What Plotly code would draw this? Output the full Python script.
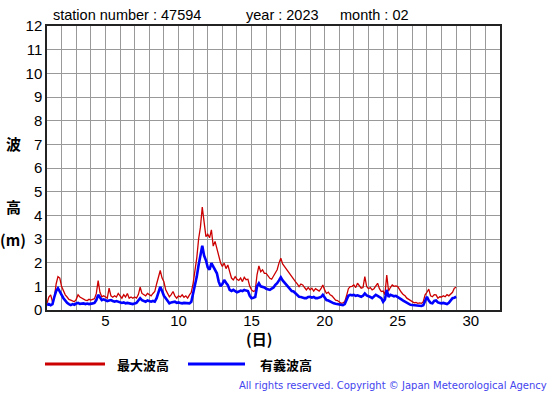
import plotly.graph_objects as go

# 3-hourly readings (00,03,06,09,12,15,18,21 h) for each day of Feb 2023, plus 1 Mar 00h
max_wave_by_day = [
    [0.28, 0.55, 0.64, 0.35, 0.50, 1.10, 1.41, 1.35],   # 1
    [0.99, 0.80, 0.64, 0.55, 0.45, 0.42, 0.38, 0.35],   # 2
    [0.45, 0.64, 0.55, 0.50, 0.45, 0.42, 0.40, 0.45],   # 3
    [0.42, 0.45, 0.48, 0.70, 1.24, 0.75, 0.56, 0.60],   # 4
    [0.55, 0.50, 0.92, 0.60, 0.54, 0.60, 0.55, 0.70],   # 5
    [0.60, 0.50, 0.65, 0.55, 0.70, 0.50, 0.55, 0.50],   # 6
    [0.55, 0.50, 0.65, 0.96, 0.70, 0.64, 0.60, 0.70],   # 7
    [0.64, 0.60, 0.70, 0.78, 1.10, 1.40, 1.67, 1.35],   # 8
    [1.20, 0.85, 0.70, 0.56, 0.65, 0.78, 0.60, 0.50],   # 9
    [0.60, 0.55, 0.64, 0.54, 0.60, 0.50, 0.64, 0.75],   # 10
    [1.13, 1.60, 2.20, 3.00, 3.50, 4.35, 3.70, 3.10],   # 11
    [3.20, 3.05, 3.39, 2.70, 2.90, 2.60, 2.30, 2.00],   # 12
    [1.84, 1.98, 1.75, 1.90, 1.62, 1.35, 1.27, 1.41],   # 13
    [1.30, 1.25, 1.35, 1.20, 1.38, 1.28, 1.30, 1.00],   # 14
    [0.85, 0.78, 0.82, 1.50, 1.86, 1.62, 1.70, 1.55],   # 15
    [1.55, 1.45, 1.34, 1.30, 1.45, 1.55, 1.70, 1.98],   # 16
    [2.19, 1.95, 1.84, 1.70, 1.60, 1.50, 1.40, 1.27],   # 17
    [1.20, 1.10, 0.99, 1.10, 1.06, 0.95, 0.85, 0.95],   # 18
    [0.85, 0.92, 0.80, 0.90, 0.85, 0.80, 0.90, 1.06],   # 19
    [0.85, 0.70, 0.75, 0.64, 0.60, 0.50, 0.42, 0.40],   # 20
    [0.35, 0.28, 0.30, 0.35, 0.60, 0.90, 0.99, 1.00],   # 21
    [1.06, 0.95, 1.13, 1.00, 0.92, 0.95, 1.41, 0.99],   # 22
    [0.90, 0.95, 0.85, 0.90, 1.00, 1.13, 0.90, 0.78],   # 23
    [0.80, 0.65, 1.48, 0.80, 0.95, 1.06, 1.00, 1.02],   # 24
    [0.99, 0.85, 0.75, 0.65, 0.60, 0.50, 0.45, 0.38],   # 25
    [0.35, 0.30, 0.32, 0.28, 0.30, 0.28, 0.35, 0.64],   # 26
    [0.75, 0.88, 0.60, 0.56, 0.65, 0.64, 0.50, 0.56],   # 27
    [0.55, 0.60, 0.56, 0.65, 0.60, 0.70, 0.75, 0.92],   # 28
]
max_wave_last = 0.96

sig_wave_by_day = [
    [0.21, 0.25, 0.20, 0.25, 0.55, 0.80, 0.92, 0.80],   # 1
    [0.64, 0.50, 0.38, 0.30, 0.25, 0.21, 0.25, 0.22],   # 2
    [0.28, 0.30, 0.26, 0.28, 0.28, 0.25, 0.27, 0.25],   # 3
    [0.25, 0.28, 0.30, 0.42, 0.64, 0.50, 0.42, 0.45],   # 4
    [0.42, 0.38, 0.40, 0.42, 0.38, 0.35, 0.38, 0.35],   # 5
    [0.35, 0.30, 0.32, 0.28, 0.30, 0.28, 0.27, 0.25],   # 6
    [0.28, 0.30, 0.40, 0.50, 0.42, 0.38, 0.35, 0.40],   # 7
    [0.38, 0.35, 0.38, 0.35, 0.50, 0.80, 0.98, 0.80],   # 8
    [0.60, 0.50, 0.40, 0.28, 0.32, 0.35, 0.35, 0.30],   # 9
    [0.32, 0.30, 0.28, 0.30, 0.30, 0.28, 0.28, 0.35],   # 10
    [0.70, 1.10, 1.41, 1.90, 2.26, 2.71, 2.30, 2.10],   # 11
    [1.80, 1.70, 1.98, 1.85, 1.70, 1.55, 1.20, 1.00],   # 12
    [1.10, 1.27, 1.15, 1.05, 0.85, 0.80, 0.85, 0.80],   # 13
    [0.75, 0.78, 0.82, 0.80, 0.85, 0.82, 0.80, 0.60],   # 14
    [0.50, 0.52, 0.55, 1.00, 1.13, 1.00, 0.99, 0.95],   # 15
    [0.90, 0.88, 0.85, 0.90, 0.95, 1.06, 1.13, 1.25],   # 16
    [1.38, 1.25, 1.15, 1.06, 0.95, 0.88, 0.80, 0.78],   # 17
    [0.70, 0.62, 0.56, 0.55, 0.52, 0.50, 0.50, 0.55],   # 18
    [0.56, 0.52, 0.55, 0.50, 0.50, 0.52, 0.55, 0.64],   # 19
    [0.50, 0.42, 0.40, 0.35, 0.30, 0.28, 0.26, 0.25],   # 20
    [0.22, 0.21, 0.21, 0.25, 0.40, 0.60, 0.64, 0.62],   # 21
    [0.64, 0.60, 0.62, 0.58, 0.56, 0.60, 0.70, 0.62],   # 22
    [0.60, 0.55, 0.50, 0.58, 0.64, 0.60, 0.55, 0.50],   # 23
    [0.35, 0.45, 0.85, 0.55, 0.64, 0.60, 0.58, 0.60],   # 24
    [0.56, 0.50, 0.45, 0.40, 0.35, 0.30, 0.25, 0.22],   # 25
    [0.21, 0.20, 0.18, 0.17, 0.18, 0.17, 0.20, 0.35],   # 26
    [0.56, 0.40, 0.30, 0.28, 0.38, 0.40, 0.32, 0.30],   # 27
    [0.28, 0.30, 0.26, 0.25, 0.30, 0.40, 0.50, 0.52],   # 28
]
sig_wave_last = 0.56

x_tick_labels = ["5", "10", "15", "20", "25", "30"]
y_tick_labels = [str(v) for v in range(0, 13)]

# build time axis (day-of-month as fractional days)
times, max_vals, sig_vals = [], [], []
for d, (mrow, srow) in enumerate(zip(max_wave_by_day, sig_wave_by_day)):
    for k in range(8):
        times.append(1 + d + k / 8)
        max_vals.append(mrow[k])
        sig_vals.append(srow[k])
times.append(1 + len(max_wave_by_day))
max_vals.append(max_wave_last)
sig_vals.append(sig_wave_last)

W, H = 555, 395
L, R, T, B = 47, 55, 26, 85
pw, ph = W - L - R, H - T - B


def px(x):
    return (x - L) / pw


def py(y):
    return (H - B - y) / ph


fig = go.Figure()
fig.add_trace(go.Scatter(x=times, y=max_vals, mode="lines", name="最大波高",
                         line=dict(color="#cc0000", width=1.3), showlegend=False))
fig.add_trace(go.Scatter(x=times, y=sig_vals, mode="lines", name="有義波高",
                         line=dict(color="#0000ff", width=2.6), showlegend=False))

xticks = list(range(1, 33))
xtext = [str(v) if str(v) in x_tick_labels else "" for v in xticks]

fig.update_layout(
    width=W, height=H,
    margin=dict(l=L, r=R, t=T, b=B, pad=0),
    paper_bgcolor="white", plot_bgcolor="white",
    font=dict(family="Liberation Sans, Arial, sans-serif", size=15, color="black"),
    xaxis=dict(range=[1, 32], tickvals=xticks, ticktext=xtext, showgrid=True,
               gridcolor="#999999", gridwidth=1, showline=True, mirror=True,
               linecolor="#222222", linewidth=1.5, ticks="", zeroline=False,
               tickfont=dict(size=15), automargin=False, ticklabelstandoff=-4),
    yaxis=dict(range=[0, 12], tickvals=list(range(0, 13)), ticktext=y_tick_labels,
               showgrid=True, gridcolor="#999999", gridwidth=1, showline=True,
               mirror=True, linecolor="#222222", linewidth=1.5, ticks="",
               zeroline=False, tickfont=dict(size=15), automargin=False),
)

ann = []
# title parts
for txt, x0 in [("station number : 47594", 51), ("year : 2023", 244), ("month : 02", 338)]:
    ann.append(dict(text=txt, x=px(x0), y=py(15), xref="paper", yref="paper",
                    xanchor="left", yanchor="middle", showarrow=False,
                    font=dict(family="Liberation Sans, Arial, sans-serif", size=14.5)))
# y-axis label (vertical chars)
cjk = "Noto Sans CJK JP"
for txt, yy in [("波", 143), ("高", 207), ("(m)", 239)]:
    ann.append(dict(text=txt, x=px(13), y=py(yy), xref="paper", yref="paper",
                    xanchor="center", yanchor="middle", showarrow=False,
                    font=dict(family=cjk, size=15, weight="bold")))
# x-axis label
ann.append(dict(text="(日)", x=px(259), y=py(338), xref="paper", yref="paper",
                xanchor="center", yanchor="middle", showarrow=False,
                font=dict(family=cjk, size=15, weight="bold")))
# legend labels
for txt, x0 in [("最大波高", 115), ("有義波高", 258)]:
    ann.append(dict(text=txt, x=px(x0), y=py(364), xref="paper", yref="paper",
                    xanchor="left", yanchor="middle", showarrow=False,
                    font=dict(family=cjk, size=13, weight="bold")))
# copyright
ann.append(dict(text="All rights reserved. Copyright © Japan Meteorological Agency",
                x=px(549), y=py(385), xref="paper", yref="paper",
                xanchor="right", yanchor="middle", showarrow=False,
                font=dict(family="DejaVu Sans, Verdana, sans-serif", size=10, color="#4444ee")))
fig.update_layout(annotations=ann)

shapes = [
    dict(type="line", xref="paper", yref="paper", x0=px(45), x1=px(105), y0=py(364), y1=py(364),
         line=dict(color="#cc0000", width=3)),
    dict(type="line", xref="paper", yref="paper", x0=px(188), x1=px(245), y0=py(364), y1=py(364),
         line=dict(color="#0000ff", width=3)),
]
fig.update_layout(shapes=shapes)

fig.write_html("out.html", config={"displayModeBar": False},
               post_script="document.body.style.margin='0px';document.body.style.padding='0px';")
